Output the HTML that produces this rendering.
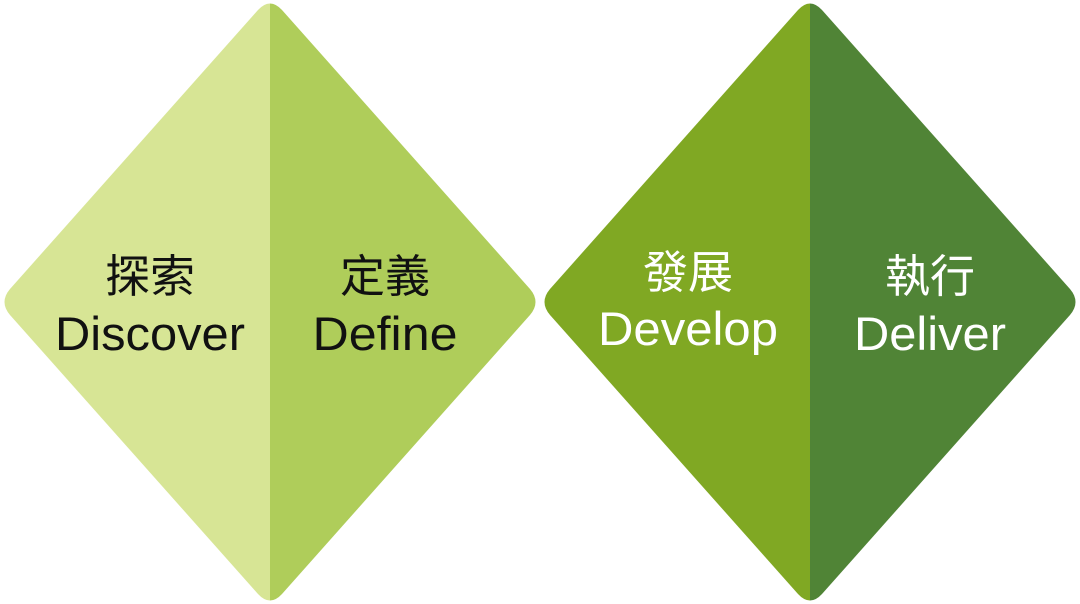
<!DOCTYPE html>
<html><head><meta charset="utf-8"><style>
html,body{margin:0;padding:0;background:#fff;}
svg{display:block}
text{font-family:"Liberation Sans","Noto Sans CJK TC",sans-serif;text-anchor:middle;}
</style></head><body>
<svg width="1080" height="604" viewBox="0 0 1080 604">
<defs>
<path id="d" d="M258,10 Q270,-3 282,10 L530,289 Q541,302 530,315 L282,594 Q270,607 258,594 L10,315 Q-1,302 10,289 Z"/>
<clipPath id="c"><use href="#d"/></clipPath>
<clipPath id="c2"><use href="#d" transform="translate(540,0)"/></clipPath>
</defs>
<g clip-path="url(#c)">
<rect x="0" y="0" width="270" height="604" fill="#d7e595"/>
<rect x="270" y="0" width="270" height="604" fill="#afcd5a"/>
</g>
<g clip-path="url(#c2)">
<rect x="540" y="0" width="270" height="604" fill="#80a823"/>
<rect x="810" y="0" width="270" height="604" fill="#508436"/>
</g>
<g font-size="45" fill="#111">
<text x="150" y="292">探索</text>
<text x="150" y="350" font-size="47" textLength="190" lengthAdjust="spacingAndGlyphs">Discover</text>
<text x="385" y="292">定義</text>
<text x="385" y="350" font-size="47" textLength="145" lengthAdjust="spacingAndGlyphs">Define</text>
</g>
<g font-size="45" fill="#fff">
<text x="688" y="288">發展</text>
<text x="688" y="345" font-size="47" textLength="180" lengthAdjust="spacingAndGlyphs">Develop</text>
<text x="930" y="292">執行</text>
<text x="930" y="350" font-size="47" textLength="152" lengthAdjust="spacingAndGlyphs">Deliver</text>
</g>
</svg>
</body></html>
